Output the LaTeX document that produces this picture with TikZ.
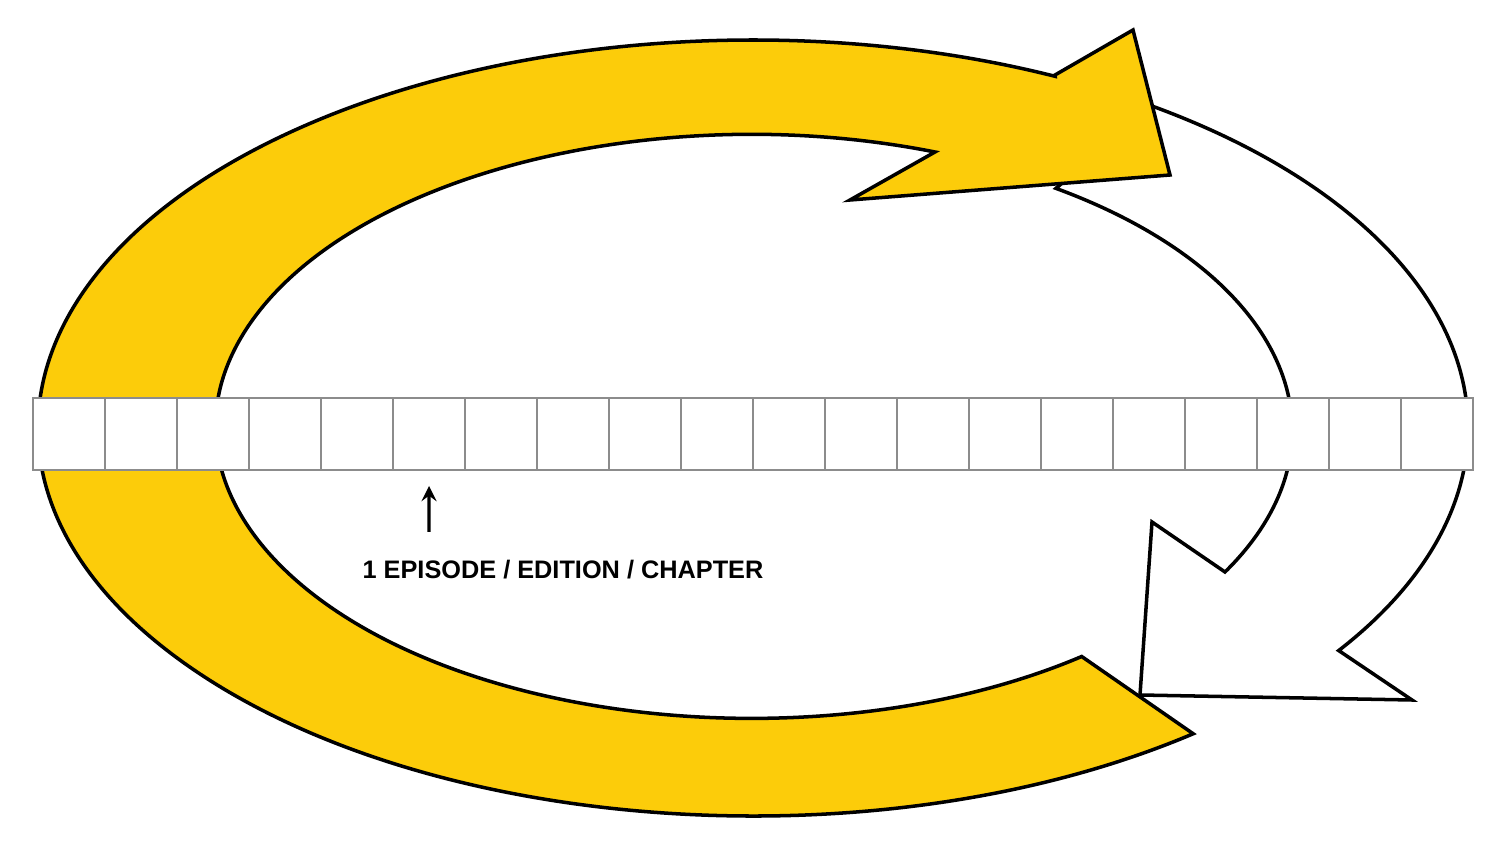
\documentclass[tikz,border=0pt]{standalone}
\usepackage{fontspec}
\setmainfont{Liberation Sans}
\usetikzlibrary{positioning,calc}
\definecolor{amarillo}{RGB}{252,204,10}
\begin{document}
\begin{tikzpicture}

% Set the overall styles
\tikzstyle{flecha}=[draw=black, line width=1pt, line join=miter]
\tikzstyle{casilla}=[draw=black!45, fill=white, minimum width=0.72cm, minimum height=0.72cm, inner sep=0pt, outer sep=0pt, line width=0.5pt]
\tikzstyle{etiqueta}=[font=\fontsize{7.2}{8}\selectfont\bfseries]

\useasboundingbox (0,0) rectangle (15.12,8.54);
\coordinate (c) at (7.53,4.26);

% Flecha blanca (derecha)
\path[flecha, fill=white]
  ($(c)+({7.15*cos(56)},{3.88*sin(56)})$)
  arc[start angle=56, end angle=-35, x radius=7.15, y radius=3.88]
  -- (14.12,1.54) -- (11.40,1.59) -- (11.52,3.32) -- (12.25,2.82)
  arc[start angle=-29, end angle=56, x radius=5.36, y radius=2.92]
  -- cycle;

% Flecha amarilla
\path[flecha, fill=amarillo]
  ($(c)+({7.15*cos(308)},{3.88*sin(308)})$)
  arc[start angle=308, end angle=65, x radius=7.15, y radius=3.88]
  -- (10.55,7.79) -- (11.33,8.24) -- (11.70,6.79) -- (8.50,6.54) -- (9.35,7.02)
  arc[start angle=70, end angle=308, x radius=5.36, y radius=2.92]
  -- cycle;

% Casillas
\foreach \i in {0,...,19}
  \node[casilla] (caja\i) at ({0.69+0.72*\i},4.20) {};

% Etiqueta
\node[etiqueta] (episodio) at (5.63,2.84) {1 EPISODE / EDITION / CHAPTER};
\coordinate (base) at (4.29,3.22);
\draw[-stealth, line width=0.9pt] (base) -- ([yshift=-0.16cm]caja5.south);

\end{tikzpicture}
\end{document}
